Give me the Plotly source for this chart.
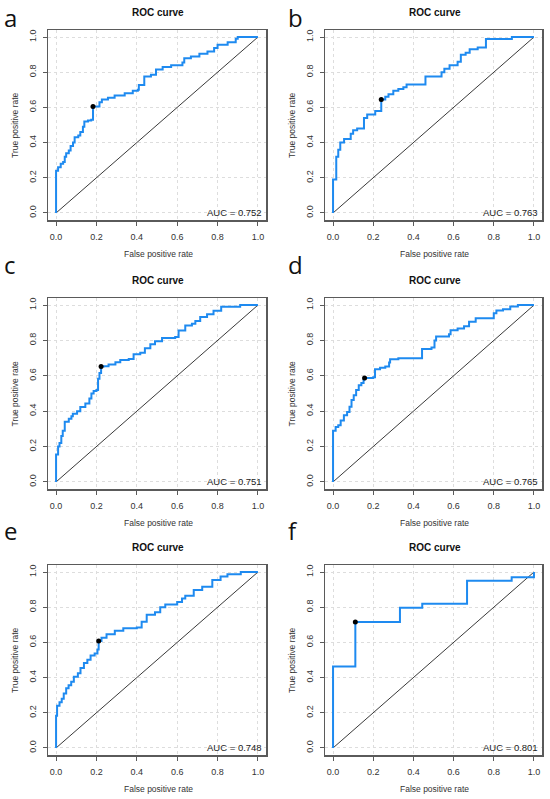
import plotly.graph_objects as go

# ---------------- data ----------------
panel_labels = ["a", "b", "c", "d", "e", "f"]
auc_values = [0.752, 0.763, 0.751, 0.765, 0.748, 0.801]

fpr_a = [0, 0, 0.010, 0.023, 0.035, 0.043, 0.050, 0.063, 0.072, 0.084, 0.092, 0.110, 0.120, 0.133, 0.140, 0.158, 0.174, 0.183,
         0.215, 0.227, 0.257, 0.290, 0.340, 0.380, 0.405, 0.410, 0.437, 0.470, 0.495, 0.528, 0.570, 0.626, 0.635, 0.668,
         0.710, 0.750, 0.783, 0.800, 0.850, 0.890, 0.900, 1.0]
tpr_a = [0, 0.24, 0.26, 0.28, 0.29, 0.32, 0.34, 0.355, 0.38, 0.40, 0.43, 0.44, 0.46, 0.49, 0.52, 0.525, 0.53, 0.605,
         0.63, 0.645, 0.655, 0.668, 0.68, 0.695, 0.70, 0.727, 0.775, 0.785, 0.815, 0.83, 0.84, 0.855, 0.88, 0.89,
         0.905, 0.918, 0.937, 0.956, 0.97, 0.99, 1.0, 1.0]
cut_a = (0.183, 0.605)

fpr_b = [0, 0, 0.016, 0.026, 0.036, 0.055, 0.088, 0.100, 0.120, 0.154, 0.170, 0.210, 0.240, 0.260, 0.276, 0.300, 0.325, 0.350,
         0.366, 0.460, 0.540, 0.554, 0.580, 0.620, 0.636, 0.660, 0.680, 0.720, 0.761, 0.890, 1.0]
tpr_b = [0, 0.19, 0.32, 0.36, 0.40, 0.42, 0.45, 0.47, 0.48, 0.54, 0.56, 0.58, 0.645, 0.66, 0.675, 0.695, 0.705, 0.715,
         0.73, 0.775, 0.80, 0.82, 0.84, 0.86, 0.90, 0.91, 0.93, 0.94, 0.989, 1.0, 1.0]
cut_b = (0.240, 0.645)

fpr_c = [0, 0, 0.010, 0.017, 0.026, 0.033, 0.043, 0.063, 0.076, 0.083, 0.104, 0.120, 0.145, 0.165, 0.175, 0.186, 0.200, 0.208,
         0.215, 0.223, 0.236, 0.260, 0.294, 0.318, 0.360, 0.384, 0.417, 0.440, 0.467, 0.490, 0.525, 0.590, 0.607, 0.640,
         0.673, 0.690, 0.714, 0.748, 0.780, 0.818, 0.912, 1.0]
tpr_c = [0, 0.155, 0.20, 0.22, 0.26, 0.29, 0.34, 0.357, 0.372, 0.385, 0.40, 0.424, 0.443, 0.472, 0.50, 0.514, 0.52, 0.583,
         0.616, 0.652, 0.654, 0.664, 0.677, 0.689, 0.695, 0.722, 0.73, 0.756, 0.779, 0.795, 0.814, 0.82, 0.856, 0.885,
         0.894, 0.91, 0.933, 0.948, 0.968, 0.99, 1.0, 1.0]
cut_c = (0.223, 0.652)

fpr_d = [0, 0, 0.013, 0.026, 0.038, 0.054, 0.070, 0.082, 0.092, 0.103, 0.115, 0.128, 0.141, 0.152, 0.157, 0.200, 0.209, 0.234,
         0.260, 0.279, 0.284, 0.325, 0.443, 0.490, 0.505, 0.513, 0.577, 0.585, 0.620, 0.652, 0.677, 0.710, 0.800, 0.813,
         0.846, 0.882, 0.920, 1.0]
tpr_d = [0, 0.29, 0.31, 0.32, 0.348, 0.377, 0.396, 0.425, 0.463, 0.49, 0.52, 0.546, 0.56, 0.579, 0.588, 0.592, 0.637, 0.646,
         0.652, 0.675, 0.694, 0.70, 0.752, 0.76, 0.80, 0.823, 0.835, 0.858, 0.867, 0.88, 0.906, 0.925, 0.954, 0.969,
         0.977, 0.992, 1.0, 1.0]
cut_d = (0.157, 0.588)

fpr_e = [0, 0, 0.005, 0.017, 0.028, 0.038, 0.050, 0.062, 0.075, 0.088, 0.108, 0.121, 0.138, 0.155, 0.171, 0.191, 0.205, 0.211,
         0.225, 0.250, 0.291, 0.333, 0.400, 0.424, 0.449, 0.490, 0.516, 0.541, 0.600, 0.624, 0.640, 0.682, 0.724, 0.774,
         0.815, 0.849, 0.915, 1.0]
tpr_e = [0, 0.183, 0.24, 0.26, 0.28, 0.31, 0.34, 0.357, 0.376, 0.405, 0.425, 0.454, 0.483, 0.502, 0.525, 0.537, 0.56, 0.608,
         0.627, 0.647, 0.666, 0.68, 0.685, 0.718, 0.757, 0.772, 0.80, 0.815, 0.83, 0.85, 0.865, 0.898, 0.917, 0.955,
         0.975, 0.988, 1.0, 1.0]
cut_e = (0.211, 0.608)

fpr_f = [0, 0, 0.111, 0.333, 0.444, 0.667, 0.889, 1.0, 1.0]
tpr_f = [0, 0.463, 0.716, 0.797, 0.82, 0.95, 0.97, 0.975, 1.0]
cut_f = (0.111, 0.716)

curves = [(fpr_a, tpr_a, cut_a), (fpr_b, tpr_b, cut_b), (fpr_c, tpr_c, cut_c),
          (fpr_d, tpr_d, cut_d), (fpr_e, tpr_e, cut_e), (fpr_f, tpr_f, cut_f)]

tick_vals = [0, 0.2, 0.4, 0.6, 0.8, 1.0]
tick_text = ["0.0", "0.2", "0.4", "0.6", "0.8", "1.0"]

# ---------------- layout geometry (pixels) ----------------
W, H = 550, 799
col_px = [(48, 266), (325, 542)]
row_px = [(30, 220), (298, 489), (565, 755)]
letter_y_px = [17, 265, 530]
BLUE = "#1E8AF0"
FONT = "Liberation Sans, Arial, sans-serif"

def px_x(p):
    return p / W

def px_y(p):
    return 1 - p / H

fig = go.Figure()
annotations = []
layout_axes = {}

for i in range(6):
    r, c = divmod(i, 2)
    x0, x1 = col_px[c]
    y0, y1 = row_px[r]
    n = "" if i == 0 else str(i + 1)
    xa, ya = "x" + n, "y" + n
    fpr, tpr, cut = curves[i]

    fig.add_trace(go.Scatter(x=[0, 1], y=[0, 1], mode="lines", xaxis=xa, yaxis=ya,
                             line=dict(color="#222222", width=0.9), showlegend=False, hoverinfo="skip"))
    fig.add_trace(go.Scatter(x=fpr, y=tpr, mode="lines", xaxis=xa, yaxis=ya,
                             line=dict(color=BLUE, width=2, shape="hv"), showlegend=False))
    fig.add_trace(go.Scatter(x=[cut[0]], y=[cut[1]], mode="markers", xaxis=xa, yaxis=ya,
                             marker=dict(color="black", size=5), showlegend=False))

    common = dict(range=[-0.04, 1.04], tickvals=tick_vals, ticktext=tick_text,
                  showgrid=True, gridcolor="#dddddd", griddash="dot", gridwidth=1,
                  showline=True, mirror=True, linecolor="#5a5a5a", linewidth=1.5,
                  ticks="outside", ticklen=4, tickcolor="#5a5a5a",
                  tickfont=dict(family=FONT, size=9, color="#333333"),
                  zeroline=False, fixedrange=True)
    layout_axes["xaxis" + n] = dict(common, domain=[px_x(x0), px_x(x1)], anchor=ya, ticklabelstandoff=4)
    layout_axes["yaxis" + n] = dict(common, domain=[px_y(y1), px_y(y0)], anchor=xa, tickangle=-90,
                                    ticklabelstandoff=3)

    cx = (x0 + x1) / 2
    # title
    annotations.append(dict(text="<b>ROC curve</b>", x=px_x(cx + 1), y=px_y(y0 - 18), xref="paper", yref="paper",
                            showarrow=False, xanchor="center", yanchor="middle",
                            font=dict(family=FONT, size=10, color="#111111")))
    # x axis title
    annotations.append(dict(text="False positive rate", x=px_x(cx + 1), y=px_y(y1 + 34), xref="paper", yref="paper",
                            showarrow=False, xanchor="center", yanchor="middle",
                            font=dict(family=FONT, size=8.5, color="#333333")))
    # y axis title
    annotations.append(dict(text="True positive rate", x=px_x(x0 - 33), y=px_y((y0 + y1) / 2), xref="paper",
                            yref="paper", showarrow=False, xanchor="center", yanchor="middle", textangle=-90,
                            font=dict(family=FONT, size=8.5, color="#333333")))
    # AUC text
    annotations.append(dict(text="AUC = %.3f" % auc_values[i], x=px_x(x1 - 2), y=px_y(y1 - 8), xref="paper",
                            yref="paper", showarrow=False, xanchor="right", yanchor="middle",
                            font=dict(family=FONT, size=9.5, color="#222222")))
    # panel letter
    annotations.append(dict(text=panel_labels[i], x=px_x(2 if c == 0 else 286), y=px_y(letter_y_px[r]),
                            xref="paper", yref="paper", showarrow=False, xanchor="left", yanchor="middle",
                            font=dict(family="Open Sans, sans-serif", size=24, color="#111111")))

fig.update_layout(width=W, height=H, margin=dict(l=0, r=0, t=0, b=0),
                  paper_bgcolor="white", plot_bgcolor="white",
                  annotations=annotations, **layout_axes)

fig.write_html("out.html", config={"displayModeBar": False, "staticPlot": True},
               post_script="document.body.style.margin='0px';document.body.style.overflow='hidden';")
